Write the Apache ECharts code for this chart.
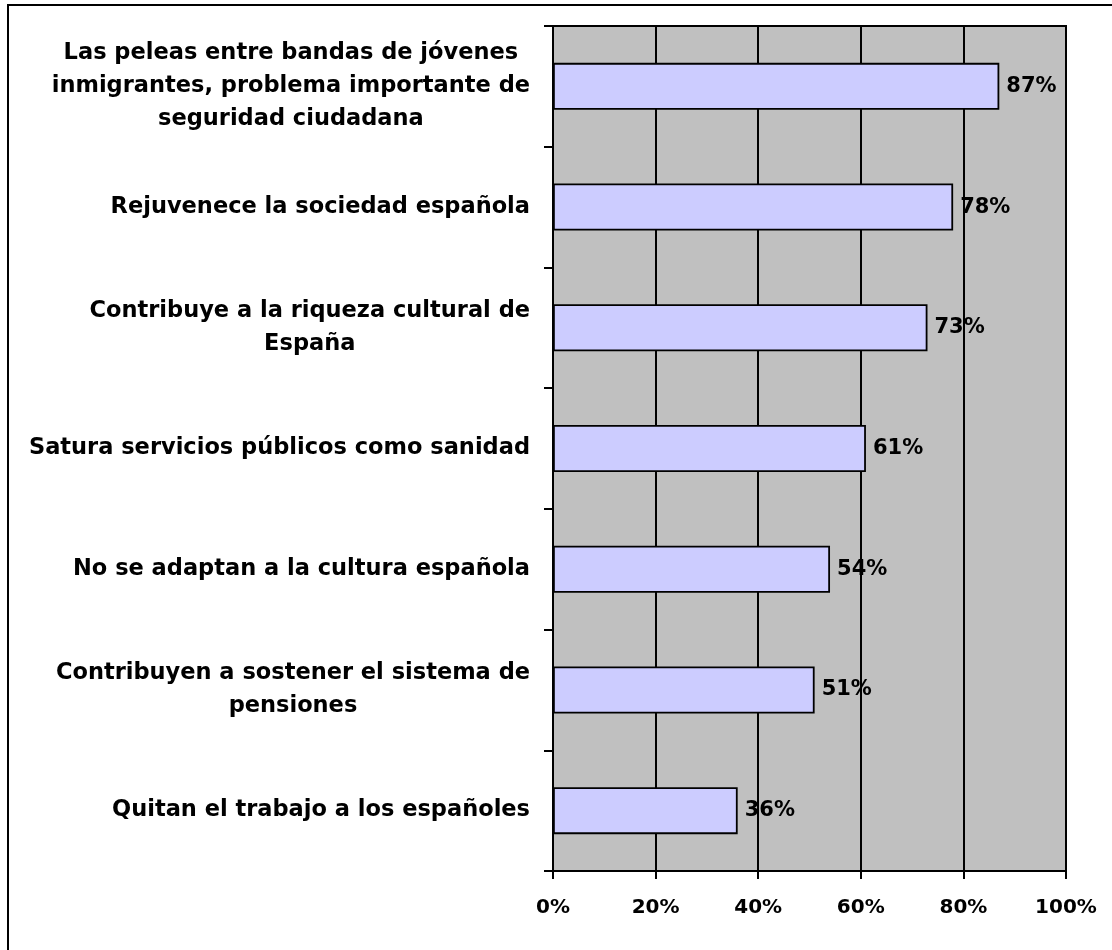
<!DOCTYPE html>
<html>
<head>
<meta charset="utf-8">
<script src="https://cdn.jsdelivr.net/npm/echarts@6/dist/echarts.min.js"></script>
<style>
  html, body { margin: 0; padding: 0; background: #fff; }
  #chart { width: 1112px; height: 950px; }
</style>
</head>
<body>
<div id="chart"></div>
<script>
// categories, top to bottom
const categories = [
  'Las peleas entre bandas de jóvenes\ninmigrantes, problema importante de\nseguridad ciudadana',
  'Rejuvenece la sociedad española',
  'Contribuye a la riqueza cultural de\nEspaña',
  'Satura servicios públicos como sanidad',
  'No se adaptan a la cultura española',
  'Contribuyen a sostener el sistema de\npensiones',
  'Quitan el trabajo a los españoles'
]
const values = [87, 78, 73, 61, 54, 51, 36]
const xTicks = [0, 20, 40, 60, 80, 100]

const font = 'DejaVu Sans'

const chart = echarts.init(document.getElementById('chart'))

chart.setOption({
  backgroundColor: '#fff',
  animation: false,
  graphic: [
    {
      // outer frame, cut off at right and bottom like the source image
      type: 'rect',
      shape: { x: 8, y: 5, width: 1300, height: 1200 },
      style: { fill: 'none', stroke: '#000', lineWidth: 2 },
      silent: true
    }
  ],
  grid: {
    left: 553,
    top: 26,
    width: 513,
    height: 845,
    show: true,
    backgroundColor: '#C0C0C0',
    borderColor: '#000',
    borderWidth: 2
  },
  xAxis: {
    type: 'value',
    min: xTicks[0],
    max: xTicks[xTicks.length - 1],
    interval: 20,
    axisLine: { show: true, lineStyle: { color: '#000', width: 2 } },
    axisTick: { show: true, length: 8, lineStyle: { color: '#000', width: 2 } },
    splitLine: { show: true, lineStyle: { color: '#000', width: 2 } },
    axisLabel: {
      margin: 27,
      color: '#000',
      fontFamily: font,
      fontWeight: 'bold',
      fontSize: 20,
      formatter: '{value}%'
    }
  },
  yAxis: {
    type: 'category',
    inverse: true,
    data: categories,
    axisLine: { show: true, lineStyle: { color: '#000', width: 2 } },
    axisTick: { show: true, length: 9, lineStyle: { color: '#000', width: 2 } },
    splitLine: { show: false },
    axisLabel: {
      margin: 23,
      interval: 0,
      formatter: (v) => v.split('\n').map((l) => '{a|' + l + '}').join('\n'),
      rich: {
        a: {
          align: 'center',
          color: '#000',
          fontFamily: font,
          fontWeight: 'bold',
          fontSize: 22.5,
          lineHeight: 33
        }
      }
    }
  },
  series: [
    {
      type: 'bar',
      data: values,
      barWidth: 47,
      itemStyle: {
        color: '#CCCCFF',
        borderColor: '#000',
        borderWidth: 1.8
      },
      label: {
        show: true,
        position: 'right',
        distance: 7,
        color: '#000',
        fontFamily: font,
        fontWeight: 'bold',
        fontSize: 21,
        formatter: '{c}%'
      }
    }
  ]
})

window.addEventListener('resize', () => chart.resize())
</script>
</body>
</html>
